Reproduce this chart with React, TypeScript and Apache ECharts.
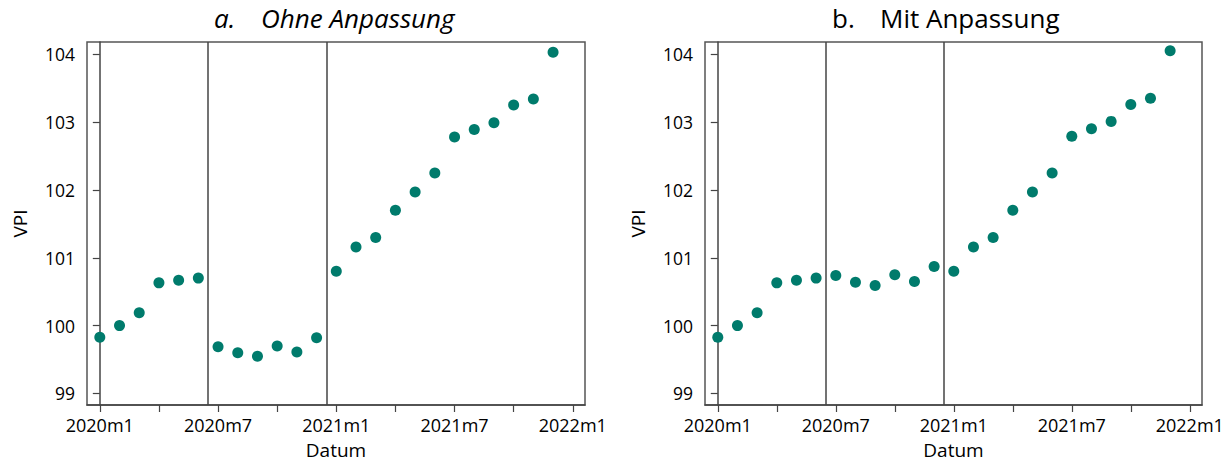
import React, { useEffect, useRef } from "react";
import * as echarts from "echarts";

const months: number[] = [0, 1, 2, 3, 4, 5, 6, 7, 8, 9, 10, 11, 12, 13, 14, 15, 16, 17, 18, 19, 20, 21, 22, 23];
const vpiOhne: number[] = [
  99.83, 100.0, 100.19, 100.63, 100.67, 100.7,
  99.69, 99.6, 99.55, 99.7, 99.61, 99.82,
  100.8, 101.16, 101.3, 101.7, 101.97, 102.25,
  102.78, 102.89, 102.99, 103.25, 103.34, 104.03,
];
const vpiMit: number[] = [
  99.83, 100.0, 100.19, 100.63, 100.67, 100.7,
  100.74, 100.64, 100.59, 100.75, 100.65, 100.87,
  100.8, 101.16, 101.3, 101.7, 101.97, 102.25,
  102.79, 102.9, 103.01, 103.26, 103.35, 104.05,
];
const breakLines: number[] = [5.5, 11.5];
const xTicks: number[] = [0, 3, 6, 9, 12, 15, 18, 21, 24];
const xLabels: number[] = [0, 6, 12, 18, 24];
const yTicks: number[] = [99, 100, 101, 102, 103, 104];

const FONT = "'Open Sans', 'Noto Sans', sans-serif";
const DOT = "#007B6C";

function monthLabel(v: number): string {
  const y = 2020 + Math.floor(v / 12);
  const m = (v % 12) + 1;
  return `${y}m${m}`;
}

export default function App() {
  const ref = useRef<HTMLDivElement>(null);
  useEffect(() => {
    if (!ref.current) return;
    const chart = echarts.init(ref.current, undefined, { renderer: "svg" });
    const grids = [
      { left: 87, top: 42, width: 498, height: 363 },
      { left: 705, top: 42, width: 497, height: 363 },
    ];
    const xAxes = grids.map((_, i) => ({
      type: "value",
      gridIndex: i,
      min: -0.65,
      max: 24.62,
      name: "Datum",
      nameLocation: "middle",
      nameGap: 35,
      nameTextStyle: { fontFamily: FONT, fontSize: 19, color: "#000" },
      axisLine: { show: true, lineStyle: { color: "#444", width: 1.5 } },
      axisTick: { show: true, length: 7, customValues: xTicks, lineStyle: { color: "#444", width: 1.2 } },
      axisLabel: {
        customValues: xLabels,
        formatter: (v: number) => monthLabel(v),
        fontFamily: FONT,
        fontSize: 18,
        color: "#000",
        margin: 11,
      },
      splitLine: { show: false },
    }));
    const yAxes = grids.map((_, i) => ({
      type: "value",
      gridIndex: i,
      min: 98.83,
      max: 104.18,
      name: "VPI",
      nameLocation: "middle",
      nameGap: 58,
      nameTextStyle: { fontFamily: FONT, fontSize: 19, color: "#000" },
      axisLine: { show: true, lineStyle: { color: "#444", width: 1.5 } },
      axisTick: { show: true, length: 7, customValues: yTicks, lineStyle: { color: "#444", width: 1.2 } },
      axisLabel: {
        customValues: yTicks,
        fontFamily: FONT,
        fontSize: 17.5,
        color: "#000",
        margin: 12,
      },
      splitLine: { show: false },
    }));
    const datasets = [vpiOhne, vpiMit];
    const series = datasets.map((vals, i) => ({
      type: "scatter",
      xAxisIndex: i,
      yAxisIndex: i,
      symbolSize: 11,
      itemStyle: { color: DOT, opacity: 1 },
      data: months.map((m, k) => [m, vals[k]]),
      markLine: {
        silent: true,
        symbol: "none",
        label: { show: false },
        lineStyle: { color: "#444", width: 1.5, type: "solid" },
        data: breakLines.map((x) => ({ xAxis: x })),
      },
    }));
    chart.setOption({
      animation: false,
      grid: grids.map((g) => ({ ...g, show: true, borderColor: "#555", borderWidth: 1.5, backgroundColor: "transparent" })),
      xAxis: xAxes,
      yAxis: yAxes,
      series,
      graphic: [
        { type: "text", x: 214, y: 5, style: { text: "a.", fontFamily: FONT, fontSize: 26, fontStyle: "italic", fill: "#000" } },
        { type: "text", x: 261, y: 5, style: { text: "Ohne Anpassung", fontFamily: FONT, fontSize: 26, fontStyle: "italic", fill: "#000" } },
        { type: "text", x: 832, y: 5, style: { text: "b.", fontFamily: FONT, fontSize: 26, fill: "#000" } },
        { type: "text", x: 880, y: 5, style: { text: "Mit Anpassung", fontFamily: FONT, fontSize: 26, fill: "#000" } },
      ],
    });
    return () => chart.dispose();
  }, []);
  return <div ref={ref} style={{ width: 1232, height: 467, position: "absolute", left: 0, top: 0 }} />;
}
